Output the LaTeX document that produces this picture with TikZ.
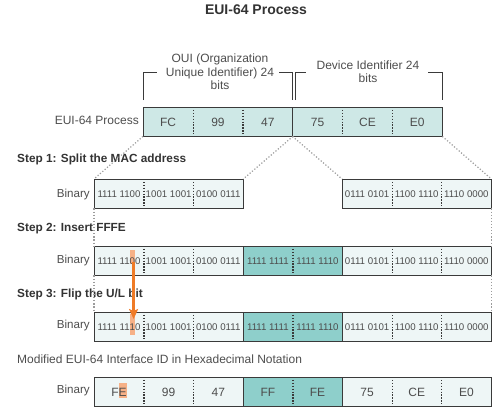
\documentclass[tikz,border=0pt]{standalone}
\usepackage{fontspec}
\setmainfont{Liberation Sans}
\usetikzlibrary{arrows.meta}
\definecolor{lite}{HTML}{EEF6F6}
\definecolor{topc}{HTML}{CEE8E6}
\definecolor{dark}{HTML}{8ECFCB}
\definecolor{hlc}{HTML}{F6B187}
\definecolor{arrc}{HTML}{EF7B27}
\definecolor{txtc}{HTML}{4D4D4D}
\definecolor{edgec}{HTML}{3A3A3A}
\definecolor{guidec}{HTML}{9C9C9C}
\newcommand\hlmark[3]{{\setlength\fboxsep{0pt}\colorbox{hlc}{\rule[-#1]{0pt}{#2}#3}}}
\begin{document}
\begin{tikzpicture}[x=1pt,y=-1pt,
  cell/.style={rectangle,inner sep=0pt,minimum height=29pt,anchor=north west,text=txtc},
  bincell/.style={cell,minimum width=49.625pt,font=\fontsize{9.7}{10}\selectfont,text height=7pt,text depth=0pt},
  hexcell/.style={cell,minimum width=49.625pt,font=\fontsize{12}{14}\selectfont,text height=8.6pt,text depth=0pt},
  topcell/.style={hexcell,minimum width=49.83pt,fill=topc},
  frame/.style={draw=edgec,line width=0.9pt},
  divider/.style={draw=edgec,line width=1.3pt,dash pattern=on 1.3pt off 1.6pt},
  guide/.style={draw=guidec,line width=1.2pt,dash pattern=on 1.2pt off 1.9pt},
  bracket/.style={draw=edgec,line width=0.8pt},
  lbl/.style={text=txtc,font=\fontsize{12}{13.5}\selectfont,inner sep=0pt},
  steplbl/.style={text=black!80,font=\bfseries\fontsize{11.8}{14}\selectfont,inner sep=0pt,anchor=base west},
  rowlbl/.style={lbl,font=\fontsize{11.6}{13}\selectfont,anchor=base east}
]
\useasboundingbox (0,0) rectangle (495,418);

% title
\node[text=black!80,font=\bfseries\fontsize{14}{16}\selectfont,inner sep=0pt] (title) at (256,9.5) {EUI-64 Process};

% top row
\foreach \t [count=\i] in {FC,99,47,75,CE,E0}
  \node[topcell] (t\i) at ({143+49.83*(\i-1)},107) {\t};
\draw[frame] (t1.north west) rectangle (t6.south east);
\draw[frame] (t3.north east) -- (t3.south east);
\foreach \i in {1,2,4,5} \draw[divider] (t\i.north east) -- (t\i.south east);
\node[lbl,anchor=base east] (euilbl) at (139,124) {EUI-64 Process};

% brackets
\draw[bracket] (143,100) -- (143,72) -- (157,72);
\draw[bracket] (279,72) -- (292.5,72) -- (292.5,100);
\draw[bracket] (295,100) -- (295,72) -- (306,72);
\draw[bracket] (428,72) -- (442,72) -- (442,100);
\node[lbl,align=center] (oui) at (220,72) {OUI (Organization\\Unique Identifier) 24\\bits};
\node[lbl,align=center] (devid) at (368,71.5) {Device Identifier 24\\bits};

% step 1
\node[steplbl] (s1) at (17,162) {Step 1: Split the MAC address};
\node[rowlbl] (bin1) at (90,197.5) {Binary};
\foreach \t [count=\i] in {1111 1100,1001 1001,0100 0111}
  \node[bincell,fill=lite] (a\i) at ({94+49.625*(\i-1)},179) {\t};
\foreach \t [count=\i from 6] in {0111 0101,1100 1110,1110 0000}
  \node[bincell,fill=lite] (a\i) at ({94+49.625*(\i-1)},179) {\t};
\draw[frame] (a1.north west) rectangle (a3.south east);
\draw[frame] (a6.north west) rectangle (a8.south east);
\foreach \i in {1,2,6,7} \draw[divider] (a\i.north east) -- (a\i.south east);

% step 2
\node[steplbl] (s2) at (17,231) {Step 2: Insert FFFE};
\node[rowlbl] (bin2) at (90,263.5) {Binary};
\foreach \t/\f [count=\i] in {1111 11\hlmark{0pt}{14pt}{0}0/lite,1001 1001/lite,0100 0111/lite,1111 1111/dark,1111 1110/dark,0111 0101/lite,1100 1110/lite,1110 0000/lite}
  \node[bincell,fill=\f] (b\i) at ({94+49.625*(\i-1)},246) {\t};
\draw[frame] (b1.north west) rectangle (b8.south east);
\foreach \i in {3,5} \draw[frame] (b\i.north east) -- (b\i.south east);
\foreach \i in {1,2,4,6,7} \draw[divider] (b\i.north east) -- (b\i.south east);

% step 3
\node[steplbl] (s3) at (17,297) {Step 3: Flip the U/L bit};
\node[rowlbl] (bin3) at (90,328) {Binary};
\foreach \t/\f [count=\i] in {1111 11\hlmark{5pt}{21pt}{1}0/lite,1001 1001/lite,0100 0111/lite,1111 1111/dark,1111 1110/dark,0111 0101/lite,1100 1110/lite,1110 0000/lite}
  \node[bincell,fill=\f] (c\i) at ({94+49.625*(\i-1)},312) {\t};
\draw[frame] (c1.north west) rectangle (c8.south east);
\foreach \i in {3,5} \draw[frame] (c\i.north east) -- (c\i.south east);
\foreach \i in {1,2,4,6,7} \draw[divider] (c\i.north east) -- (c\i.south east);

% final
\node[lbl,anchor=base west] (s4) at (17,363) {Modified EUI-64 Interface ID in Hexadecimal Notation};
\node[rowlbl] (bin4) at (90,393) {Binary};
\foreach \t/\f [count=\i] in {F\hlmark{2.3pt}{15pt}{E}/lite,99/lite,47/lite,FF/dark,FE/dark,75/lite,CE/lite,E0/lite}
  \node[hexcell,fill=\f] (d\i) at ({94+49.625*(\i-1)},377) {\t};
\draw[frame] (d1.north west) rectangle (d8.south east);
\foreach \i in {3,5} \draw[frame] (d\i.north east) -- (d\i.south east);
\foreach \i in {1,2,4,6,7} \draw[divider] (d\i.north east) -- (d\i.south east);

% guides
\draw[guide] (t1.south west) -- (a1.north west);
\draw[guide] (t3.south east) -- (a3.north east);
\draw[guide] (t4.south west) -- (a6.north west);
\draw[guide] (t6.south east) -- (a8.north east);
\draw[guide] (a1.south west) -- (b1.north west);
\draw[guide] (b1.south west) -- (c1.north west);
\draw[guide] (a8.south east) -- (b8.north east);
\draw[guide] (b8.south east) -- (c8.north east);

% U/L arrow
\coordinate (ulA) at (133.6,262);
\coordinate (ulB) at (133.6,319);
\draw[arrc,line width=2.4pt,-{Stealth[length=10pt,width=9pt,inset=2pt]}] (ulA) -- (ulB);
\end{tikzpicture}
\end{document}
